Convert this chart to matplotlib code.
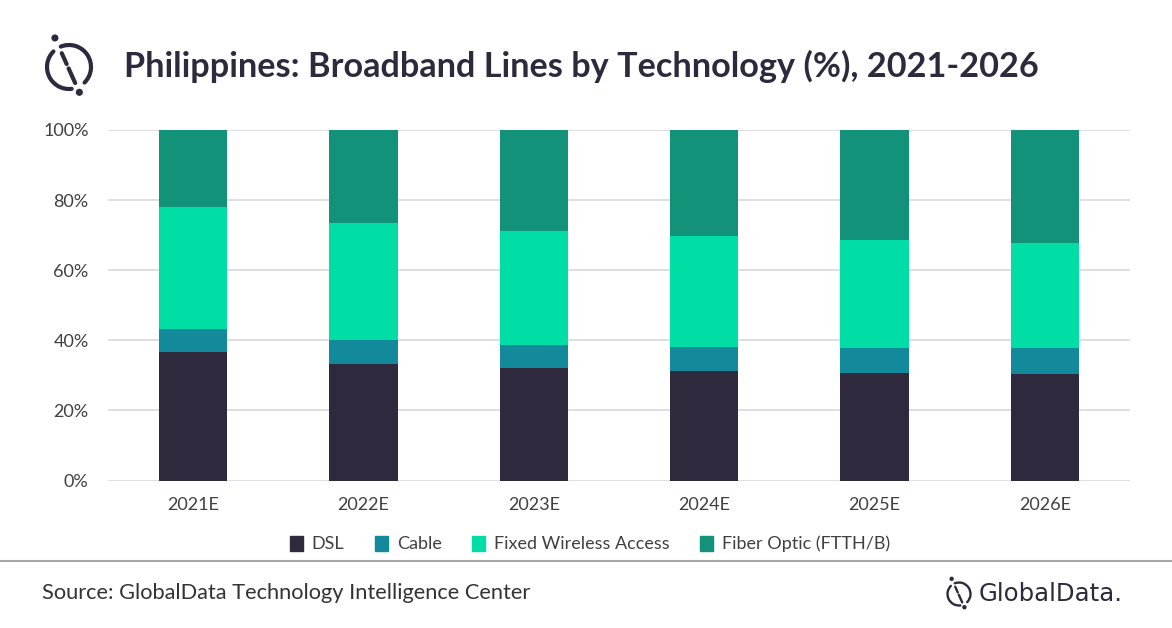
import matplotlib
matplotlib.use("Agg")
import matplotlib.pyplot as plt
from matplotlib.patches import Arc, Circle, Rectangle
from matplotlib.lines import Line2D
import numpy as np

years = ["2021E", "2022E", "2023E", "2024E", "2025E", "2026E"]
series_names = ["DSL", "Cable", "Fixed Wireless Access", "Fiber Optic (FTTH/B)"]
dsl = [36.7, 33.3, 32.1, 31.2, 30.7, 30.5]
cable = [6.6, 6.8, 6.6, 6.9, 7.2, 7.4]
fwa = [34.6, 33.5, 32.6, 31.8, 30.6, 30.0]
fiber = [22.1, 26.4, 28.7, 30.1, 31.5, 32.1]
colors = ["#2E293D", "#138A9C", "#00DDA5", "#129278"]

plt.rcParams['font.family'] = ['Lato', 'DejaVu Sans']

W, H = 1172, 628
fig = plt.figure(figsize=(W / 100, H / 100), dpi=100)
fig.patch.set_facecolor("white")

# decoration axes in pixel coordinates (y downwards)
deco = fig.add_axes([0, 0, 1, 1], zorder=0)
deco.set_xlim(0, W)
deco.set_ylim(H, 0)
deco.axis("off")

ax = fig.add_axes([108 / W, 1 - 480.5 / H, (1130 - 108) / W, (480.5 - 130) / H], zorder=1)
ax.set_facecolor("none")

x = np.arange(len(years))
bottom = np.zeros(len(years))
for vals, name, c in zip([dsl, cable, fwa, fiber], series_names, colors):
    ax.bar(x, vals, bottom=bottom, width=0.4, color=c, label=name, zorder=3)
    bottom += np.array(vals)

ax.set_xlim(-0.5, len(years) - 0.5)
ax.set_ylim(0, 100)
ax.set_yticks([0, 20, 40, 60, 80, 100])
ax.set_yticklabels([f"{v}%" for v in [0, 20, 40, 60, 80, 100]])
ax.set_xticks(x)
ax.set_xticklabels(years)
ax.grid(axis="y", color="#D9D9D9", linewidth=1.2, zorder=0)
for s in ax.spines.values():
    s.set_visible(False)
ax.tick_params(axis="both", length=0, labelsize=13, colors="#404040")
ax.tick_params(axis="y", pad=14)
ax.tick_params(axis="x", pad=12)

# title
fig.text(124 / W, 1 - 66 / H, "Philippines: Broadband Lines by Technology (%), 2021-2026",
         fontsize=24.7, fontweight="bold", color="#2E2A3D", va="center", ha="left")

# legend
handles = [Rectangle((0, 0), 1, 1, color=c) for c in colors]
leg = fig.legend(handles, series_names, loc="center", bbox_to_anchor=(590 / W, 1 - 544 / H),
                 ncol=4, frameon=False, fontsize=13, handlelength=0.7, handleheight=0.9,
                 handletextpad=0.5, columnspacing=1.7)
for t in leg.get_texts():
    t.set_color("#404040")

# separator line
deco.add_line(Line2D([0, W], [561, 561], color="#A6A6A6", linewidth=1.5))

# source
fig.text(42 / W, 1 - 593 / H, "Source: GlobalData Technology Intelligence Center",
         fontsize=15.7, color="#333333", va="center", ha="left")


def draw_logo(cx, cy, r, lw, color="#2E2A3D"):
    # y axis points down, so a math angle a becomes -a here
    deco.add_patch(Arc((cx, cy), 2 * r, 2 * r, angle=0, theta1=-277, theta2=-135,
                       color=color, linewidth=lw, capstyle="round"))
    deco.add_patch(Arc((cx, cy), 2 * r, 2 * r, angle=0, theta1=-112, theta2=45,
                       color=color, linewidth=lw, capstyle="round"))
    p1 = np.array([cx - 0.64 * r, cy - 1.32 * r])
    p2 = np.array([cx + 0.47 * r, cy + 1.15 * r])
    d = p2 - p1
    for t0, t1 in [(0.28, 0.48), (0.56, 0.83)]:
        a, b = p1 + t0 * d, p1 + t1 * d
        deco.add_line(Line2D([a[0], b[0]], [a[1], b[1]], color=color, linewidth=lw,
                             solid_capstyle="round"))
    deco.add_patch(Circle(tuple(p1), r * 0.13, color=color))
    deco.add_patch(Circle(tuple(p2), r * 0.13, color=color))


draw_logo(69, 67, 22, 3.0)
draw_logo(959, 594, 11.5, 1.7)
fig.text(979 / W, 1 - 594 / H, "GlobalData.", fontsize=17.6,
         family=["DejaVu Sans"], color="#2E2A3D", va="center", ha="left")

fig.savefig("out.png", dpi=100, facecolor="white")
